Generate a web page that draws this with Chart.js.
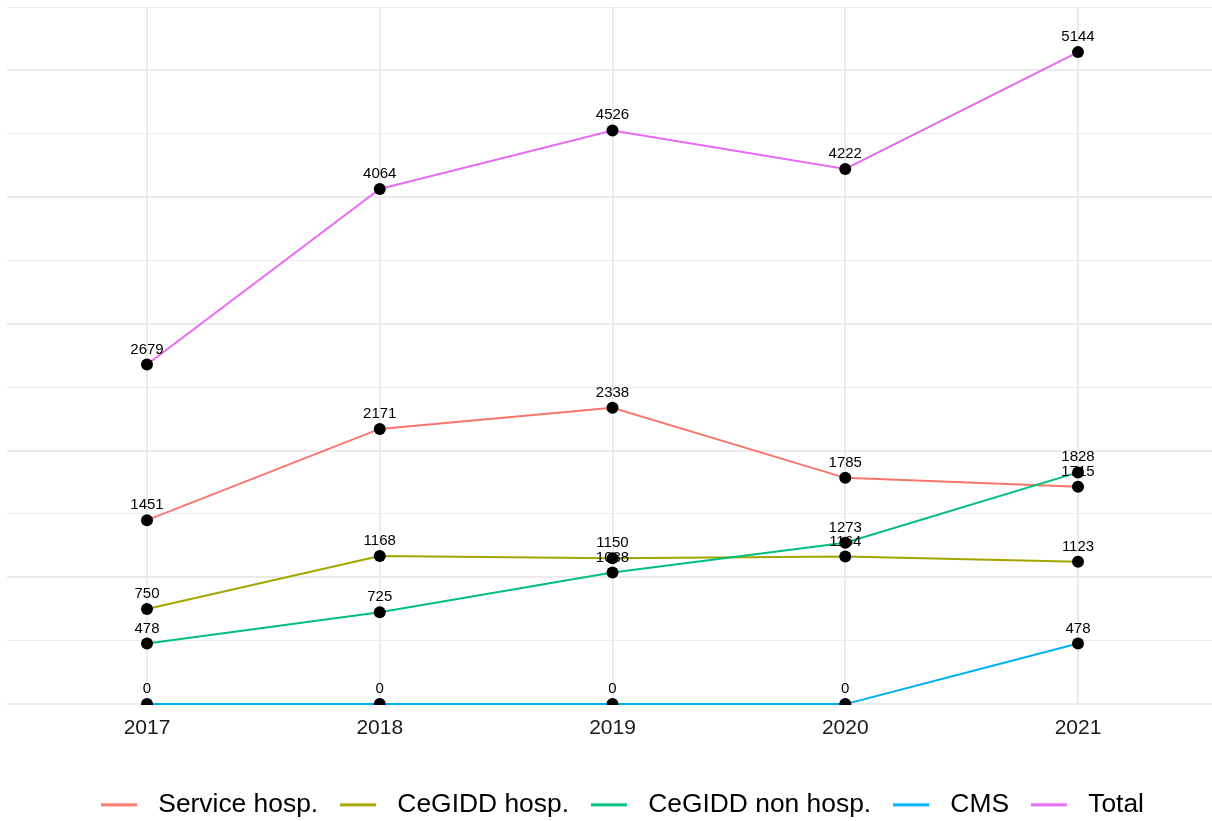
<!DOCTYPE html>
<html>
<head>
<meta charset="utf-8">
<script src="https://cdn.jsdelivr.net/npm/chart.js@4/dist/chart.umd.min.js"></script>
<style>
  html, body { margin: 0; padding: 0; background: #ffffff; }
  #wrap { width: 1212px; height: 821px; }
</style>
</head>
<body>
<div id="wrap"><canvas id="c" width="1212" height="821"></canvas></div>
<script>
// ---- data ----
const years = [2017, 2018, 2019, 2020, 2021];
const tickLabels = ['2017', '2018', '2019', '2020', '2021'];
const seriesNames = ['Service hosp.', 'CeGIDD hosp.', 'CeGIDD non hosp.', 'CMS', 'Total'];
const serviceHosp   = [1451, 2171, 2338, 1785, 1715];
const cegiddHosp    = [750, 1168, 1150, 1164, 1123];
const cegiddNonHosp = [478, 725, 1038, 1273, 1828];
const cms           = [0, 0, 0, 0, 478];
const total         = [2679, 4064, 4526, 4222, 5144];
const seriesColors  = ['#F8766D', '#A3A500', '#00BF7D', '#00B0F6', '#E76BF3'];

const seriesValues = [serviceHosp, cegiddHosp, cegiddNonHosp, cms, total];
const toPoints = vals => vals.map((v, i) => ({ x: years[i], y: v }));

const FONT = "'Liberation Sans', Arial, Helvetica, sans-serif";
Chart.defaults.font.family = FONT;

// legend symbols: short line with trailing gap
const legendImgs = seriesColors.map(col => {
  const cv = document.createElement('canvas');
  cv.width = 44; cv.height = 8;
  const g = cv.getContext('2d');
  g.strokeStyle = col; g.lineWidth = 3;
  g.beginPath(); g.moveTo(0, 4); g.lineTo(36, 4); g.stroke();
  return cv;
});

const lineSets = seriesValues.map((vals, i) => ({
  label: seriesNames[i],
  data: toPoints(vals),
  borderColor: seriesColors[i],
  backgroundColor: seriesColors[i],
  borderWidth: 2,
  pointRadius: 0,
  tension: 0,
  fill: false,
  order: 10 - i,
  clip: { left: 0, top: 0, right: 0, bottom: 1 }
}));
const pointSets = seriesValues.map((vals, i) => ({
  label: seriesNames[i] + ' pts',
  data: toPoints(vals),
  showLine: false,
  pointRadius: 6,
  pointBackgroundColor: '#000000',
  pointBorderColor: '#000000',
  pointBorderWidth: 0,
  borderColor: '#000000',
  order: 1,
  clip: { left: 0, top: 0, right: 0, bottom: 1 }
}));

const valueLabels = {
  id: 'valueLabels',
  afterDatasetDraw(chart, args) {
    if (args.index !== seriesValues.length - 1) return;
    const ctx = chart.ctx;
    ctx.save();
    ctx.font = '15px ' + FONT;
    ctx.fillStyle = '#000000';
    ctx.textAlign = 'center';
    ctx.textBaseline = 'alphabetic';
    seriesValues.forEach((vals, i) => {
      const meta = chart.getDatasetMeta(i);
      meta.data.forEach((el, j) => {
        ctx.fillText(String(vals[j]), el.x, el.y - 11);
      });
    });
    ctx.restore();
  }
};

new Chart(document.getElementById('c'), {
  type: 'line',
  data: { datasets: [...lineSets, ...pointSets] },
  plugins: [valueLabels],
  options: {
    responsive: false,
    animation: false,
    events: [],
    layout: { autoPadding: false, padding: { left: 7, right: -26, top: 7, bottom: -7 } },
    scales: {
      x: {
        type: 'linear',
        min: 2016.3985,
        max: 2021.5757,
        afterBuildTicks: s => { s.ticks = years.map(v => ({ value: v })); },
        afterFit: s => { s.height = 65.5; s.paddingLeft = 0; s.paddingRight = 0; },
        ticks: {
          autoSkip: false,
          maxRotation: 0,
          padding: 12,
          color: '#1a1a1a',
          font: { size: 21 },
          callback: (v) => tickLabels[years.indexOf(v)]
        },
        grid: { color: '#EBEBEB', lineWidth: 2, drawTicks: false },
        border: { display: false }
      },
      y: {
        min: 0,
        max: 5500,
        afterFit: s => { s.width = 0; },
        ticks: { display: false, stepSize: 500 },
        grid: {
          color: '#EBEBEB',
          drawTicks: false,
          lineWidth: c => (c.tick && c.tick.value % 1000 === 0) ? 2 : 1
        },
        border: { display: false }
      }
    },
    plugins: {
      tooltip: { enabled: false },
      legend: {
        position: 'bottom',
        labels: {
          usePointStyle: true,
          pointStyleWidth: 44,
          padding: 22,
          color: '#000000',
          font: { size: 26.4 },
          generateLabels: () => seriesNames.map((n, i) => ({
            text: n,
            pointStyle: legendImgs[i],
            datasetIndex: i,
            hidden: false,
            fillStyle: seriesColors[i],
            strokeStyle: seriesColors[i],
            lineWidth: 0,
            fontColor: '#000000'
          }))
        }
      }
    }
  }
});
</script>
</body>
</html>
